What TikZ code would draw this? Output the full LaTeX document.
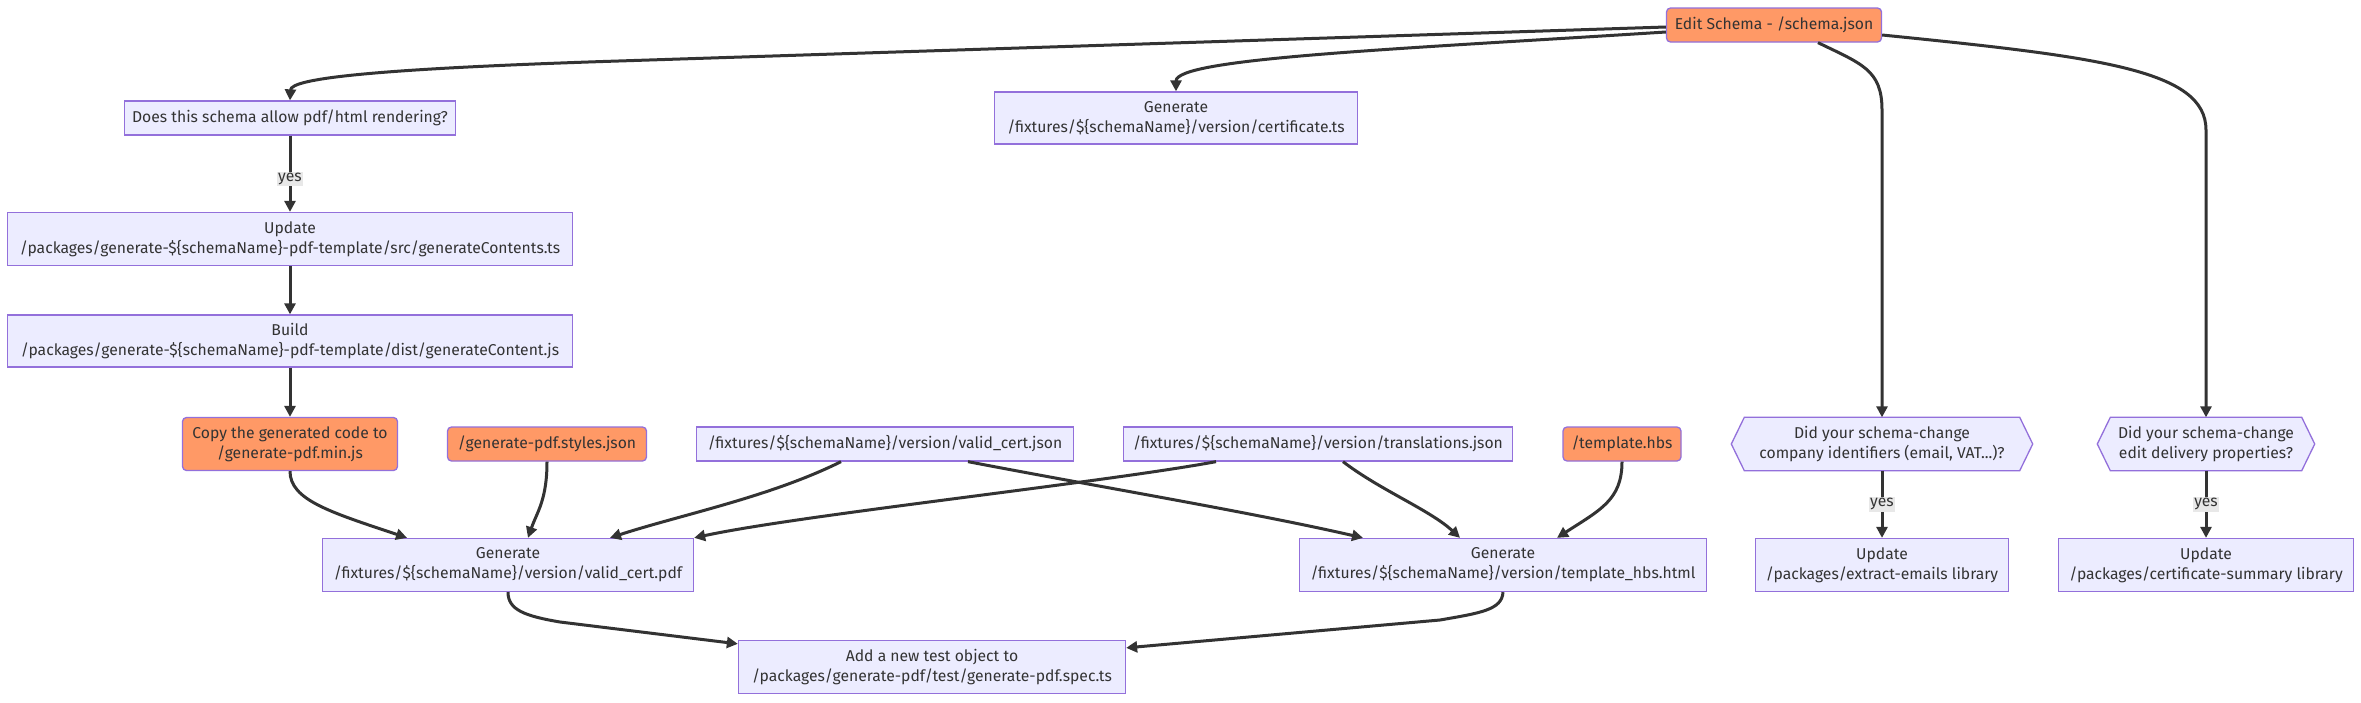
\documentclass[tikz,border=0pt]{standalone}
\usepackage{fontspec}
\setmainfont{Fira Sans}
\usetikzlibrary{arrows.meta,backgrounds}
\definecolor{nfill}{HTML}{ECECFF}
\definecolor{nstroke}{HTML}{9370DB}
\definecolor{ofill}{HTML}{FF9966}
\definecolor{ec}{HTML}{333333}
\definecolor{lblbg}{HTML}{E8E8E8}
\newcommand{\nfont}{\fontsize{15.7}{20}\selectfont}
\begin{document}
\begin{tikzpicture}[x=1pt,y=-1pt,
  box/.style={draw=nstroke, fill=nfill, line width=1.3pt, text=ec, align=center, inner sep=0pt, font=\nfont},
  obox/.style={box, fill=ofill, rounded corners=4pt},
  hexn/.style={inner sep=0pt, align=center, text=ec, font=\nfont},
  hexpath/.style={draw=nstroke, fill=nfill, line width=1.3pt},
  conn/.style={draw=ec, line width=3pt, -{Triangle[length=11pt,width=11pt]}},
  lbl/.style={fill=lblbg, inner sep=1.5pt, text=ec, font=\nfont}
]
\useasboundingbox (0,0) rectangle (2361,702);

% nodes
\node[obox, minimum width=215pt, minimum height=34pt] (es) at (1774,25) {Edit Schema - /schema.json};
\node[box, minimum width=331pt, minimum height=34pt] (does) at (290,118) {Does this schema allow pdf/html rendering?};
\node[box, minimum width=363pt, minimum height=52pt] (gencert) at (1176,118) {Generate\\/fixtures/\$\{schemaName\}/version/certificate.ts};
\node[box, minimum width=565pt, minimum height=53pt] (upd) at (290,239) {Update\\/packages/generate-\$\{schemaName\}-pdf-template/src/generateContents.ts};
\node[box, minimum width=565pt, minimum height=52pt] (build) at (290,341) {Build\\/packages/generate-\$\{schemaName\}-pdf-template/dist/generateContent.js};
\node[obox, minimum width=215pt, minimum height=53pt] (copy) at (290,444) {Copy the generated code to\\/generate-pdf.min.js};
\node[obox, minimum width=199pt, minimum height=34pt] (styles) at (547,444) {/generate-pdf.styles.json};
\node[box, minimum width=377pt, minimum height=34pt] (vcj) at (885,444) {/fixtures/\$\{schemaName\}/version/valid\_cert.json};
\node[box, minimum width=389pt, minimum height=34pt] (trans) at (1318,444) {/fixtures/\$\{schemaName\}/version/translations.json};
\node[obox, minimum width=118pt, minimum height=34pt] (hbs) at (1622,444) {/template.hbs};
\node[hexn, minimum width=301pt, minimum height=53pt] (hex1) at (1882,444) {Did your schema-change\\company identifiers (email, VAT...)?};
\node[hexn, minimum width=217pt, minimum height=53pt] (hex2) at (2206,444) {Did your schema-change\\edit delivery properties?};
\node[box, minimum width=371pt, minimum height=53pt] (vpdf) at (508,565) {Generate\\/fixtures/\$\{schemaName\}/version/valid\_cert.pdf};
\node[box, minimum width=407pt, minimum height=53pt] (html) at (1503,565) {Generate\\/fixtures/\$\{schemaName\}/version/template\_hbs.html};
\node[box, minimum width=253pt, minimum height=53pt] (upe) at (1882,565) {Update\\/packages/extract-emails library};
\node[box, minimum width=295pt, minimum height=53pt] (ups) at (2206,565) {Update\\/packages/certificate-summary library};
\node[box, minimum width=387pt, minimum height=53pt] (add) at (932,667) {Add a new test object to\\/packages/generate-pdf/test/generate-pdf.spec.ts};

\begin{scope}[on background layer]
\fill[white] (0,0) rectangle (2361,702);
\foreach \n in {hex1,hex2}
  \filldraw[hexpath] ([xshift=13pt]\n.north west) -- ([xshift=-13pt]\n.north east) -- (\n.east) -- ([xshift=-13pt]\n.south east) -- ([xshift=13pt]\n.south west) -- (\n.west) -- cycle;
\end{scope}

% connectors
\draw[conn] ([yshift=-2pt]es.west) -- (600,61.6) .. controls (380,69) and (291,78) .. (does.north);
\draw[conn] ([yshift=-7pt]es.west) .. controls (1400,49) and (1176,58) .. (gencert.north);
\draw[conn] ([xshift=44pt]es.south) .. controls (1862,64) and (1882,70) .. (1882,110) -- (hex1.north);
\draw[conn] ([yshift=-10pt]es.east) .. controls (2100,57) and (2206,70) .. (2206,130) -- (hex2.north);
\draw[conn] (does) -- node[lbl,pos=0.57]{yes} (upd);
\draw[conn] (upd) -- (build);
\draw[conn] (build) -- (copy);
\draw[conn] (copy.south) .. controls (290,500) and (330,512) .. ([xshift=-101pt]vpdf.north);
\draw[conn] (styles.south) .. controls (547,500) and (537,512) .. ([xshift=20pt]vpdf.north);
\draw[conn] ([xshift=-44pt]vcj.south) .. controls (770,497) and (680,515) .. ([xshift=102pt]vpdf.north);
\draw[conn] ([xshift=-102pt]trans.south) .. controls (1100,483) and (800,515) .. (vpdf.north east);
\draw[conn] ([xshift=83pt]vcj.south) .. controls (1100,487) and (1250,512) .. ([xshift=-140pt]html.north);
\draw[conn] ([xshift=25pt]trans.south) .. controls (1380,490) and (1430,510) .. ([xshift=-43pt]html.north);
\draw[conn] (hbs.south) .. controls (1622,500) and (1600,510) .. ([xshift=54pt]html.north);
\draw[conn] (hex1) -- node[lbl]{yes} (upe);
\draw[conn] (hex2) -- node[lbl]{yes} (ups);
\draw[conn] (vpdf.south) .. controls (508,610) and (525,616) .. (560,622) -- ([yshift=-4pt]add.north west);
\draw[conn] (html.south) .. controls (1502,610) and (1480,613) .. (1440,620) -- ([yshift=-8pt]add.north east);
\end{tikzpicture}
\end{document}
